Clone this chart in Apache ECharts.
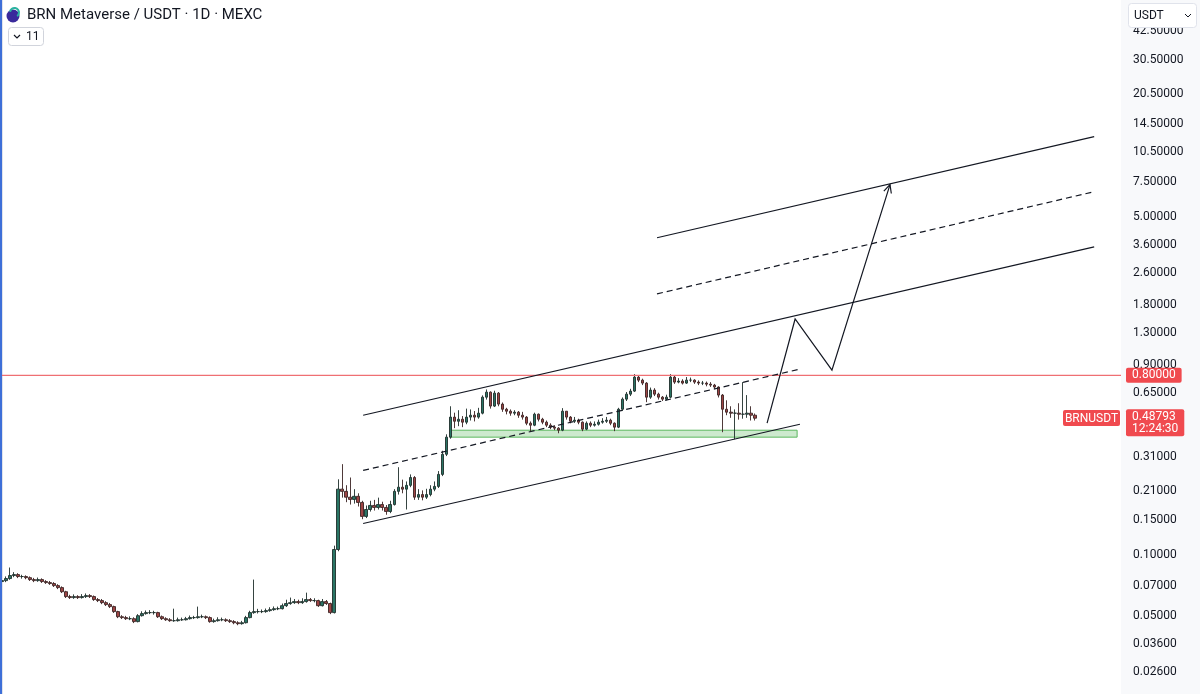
<!DOCTYPE html>
<html>
<head>
<meta charset="utf-8">
<title>BRN Metaverse / USDT</title>
<script src="https://cdn.jsdelivr.net/npm/echarts@6/dist/echarts.min.js"></script>
<style>
  html, body { margin: 0; padding: 0; background: #fff; }
  #chart { width: 1200px; height: 694px; }
</style>
</head>
<body>
<div id="chart"></div>
<script>
// daily candles (open = previous close)
const FIRST_OPEN = 0.0740;
const CLOSE = [
  0.0748, 0.0766, 0.0793, 0.0802, 0.0784, 0.0784, 0.0774, 0.0757, 0.0748, 0.0757,
  0.0740, 0.0731, 0.0723, 0.0706, 0.0690, 0.0658, 0.0622, 0.0615, 0.0622, 0.0615,
  0.0622, 0.0629, 0.0622, 0.0601, 0.0594, 0.0580, 0.0567, 0.0554, 0.0523, 0.0493,
  0.0488, 0.0482, 0.0482, 0.0466, 0.0499, 0.0511, 0.0517, 0.0517, 0.0517, 0.0493,
  0.0482, 0.0476, 0.0471, 0.0471, 0.0476, 0.0476, 0.0482, 0.0488, 0.0488, 0.0493,
  0.0493, 0.0488, 0.0466, 0.0471, 0.0476, 0.0476, 0.0471, 0.0466, 0.0460, 0.0455,
  0.0460, 0.0488, 0.0517, 0.0523, 0.0523, 0.0523, 0.0529, 0.0535, 0.0541, 0.0541,
  0.0560, 0.0574, 0.0580, 0.0587, 0.0580, 0.0587, 0.0601, 0.0594, 0.0594, 0.0560,
  0.0587, 0.0574, 0.0517, 0.1071, 0.2151, 0.2096, 0.1960, 0.1910, 0.1980, 0.1845,
  0.1570, 0.1700, 0.1782, 0.1741, 0.1800, 0.1741, 0.1662, 0.1800, 0.2096, 0.2200,
  0.2150, 0.2247, 0.2460, 0.1960, 0.2020, 0.1960, 0.2020, 0.2150, 0.2220, 0.2550,
  0.3216, 0.3920, 0.4940, 0.4710, 0.4820, 0.4660, 0.4940, 0.5050, 0.4940, 0.5170,
  0.6220, 0.6590, 0.5610, 0.6517, 0.5740, 0.5410, 0.5290, 0.5170, 0.5230, 0.5050,
  0.4940, 0.4604, 0.4500, 0.5110, 0.4820, 0.4660, 0.4500, 0.4400, 0.4350, 0.4250,
  0.5290, 0.4940, 0.4710, 0.4768, 0.4660, 0.4300, 0.4604, 0.4500, 0.4550, 0.4660,
  0.4710, 0.4768, 0.4604, 0.4400, 0.5410, 0.6080, 0.6440, 0.6670, 0.7840, 0.7570,
  0.7316, 0.6220, 0.6750, 0.6440, 0.6220, 0.6080, 0.6220, 0.7840, 0.7400, 0.7490,
  0.7316, 0.7570, 0.7570, 0.7400, 0.7316, 0.7316, 0.7230, 0.7150, 0.6990, 0.6370,
  0.5410, 0.5230, 0.5170, 0.5170, 0.5110, 0.5110, 0.5170, 0.5050, 0.48793
];
const HIGH = [
  0.0765, 0.0785, 0.0870, 0.0825, 0.0815, 0.0800, 0.0795, 0.0785, 0.0772, 0.0775,
  0.0768, 0.0752, 0.0745, 0.0735, 0.0718, 0.0700, 0.0665, 0.0635, 0.0638, 0.0632,
  0.0640, 0.0645, 0.0640, 0.0630, 0.0612, 0.0605, 0.0590, 0.0578, 0.0560, 0.0528,
  0.0502, 0.0498, 0.0495, 0.0490, 0.0508, 0.0525, 0.0530, 0.0532, 0.0528, 0.0522,
  0.0500, 0.0490, 0.0485, 0.0541, 0.0488, 0.0488, 0.0492, 0.0500, 0.0498, 0.0554,
  0.0505, 0.0500, 0.0495, 0.0482, 0.0490, 0.0488, 0.0484, 0.0480, 0.0474, 0.0468,
  0.0470, 0.0498, 0.0528, 0.0757, 0.0540, 0.0536, 0.0542, 0.0550, 0.0555, 0.0554,
  0.0574, 0.0600, 0.0615, 0.0605, 0.0600, 0.0610, 0.0651, 0.0612, 0.0610, 0.0600,
  0.0605, 0.0598, 0.0580, 0.1120, 0.2410, 0.2870, 0.2250, 0.2460, 0.2150, 0.2050,
  0.1880, 0.1780, 0.1880, 0.1900, 0.1950, 0.1860, 0.1790, 0.1880, 0.2150, 0.2770,
  0.2400, 0.2350, 0.2550, 0.2500, 0.2150, 0.2120, 0.2160, 0.2250, 0.2350, 0.2650,
  0.3350, 0.4050, 0.5600, 0.5200, 0.5350, 0.5000, 0.5450, 0.5400, 0.5300, 0.5500,
  0.6350, 0.6800, 0.6650, 0.6700, 0.6600, 0.5850, 0.5500, 0.5400, 0.5350, 0.5300,
  0.5250, 0.5000, 0.4700, 0.5200, 0.5150, 0.4900, 0.4750, 0.4600, 0.4500, 0.4400,
  0.5480, 0.5300, 0.5000, 0.4950, 0.4850, 0.4700, 0.4700, 0.4700, 0.4700, 0.4800,
  0.4880, 0.4950, 0.4850, 0.4650, 0.5500, 0.6200, 0.6600, 0.6850, 0.8120, 0.8000,
  0.7700, 0.7400, 0.6950, 0.6900, 0.6550, 0.6300, 0.6400, 0.8120, 0.7950, 0.7750,
  0.7650, 0.7850, 0.7800, 0.7650, 0.7550, 0.7500, 0.7450, 0.7400, 0.7250, 0.7050,
  0.6450, 0.6000, 0.5600, 0.5400, 0.5800, 0.7400, 0.6370, 0.5600, 0.5150
];
const LOW = [
  0.0725, 0.0735, 0.0755, 0.0778, 0.0770, 0.0765, 0.0760, 0.0745, 0.0735, 0.0738,
  0.0728, 0.0720, 0.0712, 0.0695, 0.0678, 0.0648, 0.0612, 0.0605, 0.0606, 0.0605,
  0.0608, 0.0612, 0.0612, 0.0592, 0.0584, 0.0570, 0.0558, 0.0545, 0.0515, 0.0485,
  0.0480, 0.0475, 0.0474, 0.0458, 0.0462, 0.0494, 0.0505, 0.0508, 0.0505, 0.0486,
  0.0475, 0.0470, 0.0465, 0.0465, 0.0466, 0.0470, 0.0472, 0.0477, 0.0480, 0.0482,
  0.0485, 0.0480, 0.0460, 0.0460, 0.0466, 0.0468, 0.0464, 0.0459, 0.0452, 0.0447,
  0.0450, 0.0456, 0.0484, 0.0510, 0.0512, 0.0514, 0.0516, 0.0522, 0.0528, 0.0532,
  0.0536, 0.0552, 0.0566, 0.0572, 0.0570, 0.0572, 0.0580, 0.0585, 0.0582, 0.0552,
  0.0555, 0.0565, 0.0508, 0.0512, 0.1050, 0.1950, 0.1850, 0.1800, 0.1820, 0.1760,
  0.1520, 0.1540, 0.1660, 0.1680, 0.1700, 0.1680, 0.1600, 0.1630, 0.1780, 0.2020,
  0.2050, 0.1700, 0.2200, 0.1900, 0.1900, 0.1890, 0.1920, 0.1980, 0.2100, 0.2180,
  0.2500, 0.3150, 0.3850, 0.4350, 0.4450, 0.4400, 0.4550, 0.4750, 0.4700, 0.4850,
  0.5100, 0.6050, 0.5450, 0.5550, 0.5600, 0.5250, 0.5100, 0.5020, 0.5050, 0.4900,
  0.4800, 0.4500, 0.4200, 0.4450, 0.4700, 0.4550, 0.4400, 0.4300, 0.4250, 0.4100,
  0.4200, 0.4800, 0.4600, 0.4620, 0.4550, 0.4200, 0.4250, 0.4400, 0.4430, 0.4480,
  0.4580, 0.4620, 0.4500, 0.4200, 0.4350, 0.5300, 0.5950, 0.6300, 0.6600, 0.7400,
  0.7150, 0.5870, 0.6100, 0.6300, 0.6050, 0.5950, 0.6000, 0.6150, 0.7250, 0.7300,
  0.7200, 0.7250, 0.7400, 0.7250, 0.7150, 0.7150, 0.7050, 0.7000, 0.6850, 0.6200,
  0.4150, 0.5050, 0.4900, 0.3830, 0.4800, 0.4850, 0.4900, 0.4750, 0.4750
];
// price scale labels on the right
const TICKS = [42.5, 30.5, 20.5, 14.5, 10.5, 7.5, 5.0, 3.6, 2.6, 1.8, 1.3, 0.9, 0.65,
  0.31, 0.21, 0.15, 0.10, 0.07, 0.05, 0.036, 0.026];
const SLOT_COUNT = 280;   // candles plus empty space to the right

// drawings: [bar index, price]
const UPPER_CH = [[90.2, 0.505], [272.8, 3.53]];
const MID_CH = [[90.2, 0.267], [199.3, 0.860]];
const LOWER_CH = [[90.2, 0.1447], [199.3, 0.455]];
const PROJ_TOP = [[163.6, 3.92], [272.8, 12.6]];
const PROJ_MID = [[163.6, 2.05], [272.8, 6.67]];
const PATH = [[191.1, 0.4605], [198.1, 1.534], [207.3, 0.850], [221.8, 7.24]];
const ZONE = [111.9, 198.6, 0.392, 0.4247];   // from, to, low, high
const RES_LEVEL = 0.8;
const LAST_PRICE = 0.48793;
const COUNTDOWN = '12:24:30';

const slots = Array.from({ length: SLOT_COUNT }, (_, i) => i);
const ohlc = CLOSE.map((c, i) => [i ? CLOSE[i - 1] : FIRST_OPEN, c, LOW[i], HIGH[i]]);

function trend(points, dashed, color) {
  return {
    type: 'line', xAxisIndex: 1, data: points, symbol: 'none', silent: true, z: 4,
    lineStyle: { color: color || '#131722', width: 1.2, type: dashed ? [6, 4] : 'solid' }
  };
}

const tagLabel = {
  show: true, position: 'end', distance: 5,
  backgroundColor: '#f04a4f', color: '#fff', borderRadius: 2,
  padding: [2, 6, 1, 6], fontSize: 12, fontFamily: 'Roboto'
};

var chart = echarts.init(document.getElementById('chart'));
var option = {
  animation: false,
  backgroundColor: '#ffffff',
  grid: { left: 0, right: 79, top: 0, bottom: 0 },
  xAxis: [
    { type: 'category', data: slots, boundaryGap: true, show: false },
    { type: 'value', min: -0.5, max: SLOT_COUNT - 0.5, show: false }
  ],
  yAxis: {
    type: 'log', logBase: 10, min: 0.0202, max: 61, position: 'right',
    axisLine: { show: true, lineStyle: { color: '#e0e3eb' } },
    axisTick: { show: false },
    splitLine: { show: false },
    axisLabel: {
      customValues: TICKS,
      formatter: v => v.toFixed(5),
      color: '#131722', fontSize: 12, fontFamily: 'Roboto', margin: 12
    }
  },
  series: [
    // horizontal resistance level across the whole pane
    trend([[-0.5, RES_LEVEL], [SLOT_COUNT - 0.5, RES_LEVEL]], false, '#ef6f73'),
    {
      type: 'candlestick',
      data: ohlc,
      barWidth: 3.2,
      z: 3,
      itemStyle: {
        color: '#2a7565', color0: '#9e4444',
        borderColor: '#1f2f2b', borderColor0: '#3b2424', borderWidth: 0.9
      }
    },
    {
      type: 'custom', xAxisIndex: 1, silent: true, z: 3,
      data: [ZONE], encode: { x: [0, 1], y: [2, 3] },
      renderItem: function (params, api) {
        var a = api.coord([api.value(0), api.value(3)]);
        var b = api.coord([api.value(1), api.value(2)]);
        return {
          type: 'rect',
          shape: { x: a[0], y: a[1], width: b[0] - a[0], height: b[1] - a[1] },
          style: { fill: 'rgba(76,175,80,0.28)', stroke: '#5cb860', lineWidth: 1 }
        };
      },
      markLine: {
        silent: true, symbol: 'none', animation: false,
        lineStyle: { color: 'rgba(0,0,0,0)', width: 1 },
        data: [
          {
            yAxis: RES_LEVEL,
            label: Object.assign({}, tagLabel, { formatter: RES_LEVEL.toFixed(5) })
          },
          {
            yAxis: LAST_PRICE,
            label: Object.assign({}, tagLabel, {
              formatter: LAST_PRICE.toFixed(5) + '\n' + COUNTDOWN,
              lineHeight: 12, offset: [0, 5]
            })
          }
        ]
      }
    },
    trend(UPPER_CH, false),
    trend(MID_CH, true),
    trend(LOWER_CH, false),
    trend(PROJ_TOP, false),
    trend(PROJ_MID, true),
    {
      type: 'custom', xAxisIndex: 1, silent: true, z: 5,
      data: [PATH[0]], encode: { x: 0, y: 1 },
      renderItem: function (params, api) {
        var pts = PATH.map(p => api.coord(p));
        var n = pts.length;
        var tip = pts[n - 1], prev = pts[n - 2];
        var ang = Math.atan2(tip[1] - prev[1], tip[0] - prev[0]);
        var len = 9, spread = 0.45;
        var h1 = [tip[0] - len * Math.cos(ang - spread), tip[1] - len * Math.sin(ang - spread)];
        var h2 = [tip[0] - len * Math.cos(ang + spread), tip[1] - len * Math.sin(ang + spread)];
        return {
          type: 'group',
          children: [
            { type: 'polyline', shape: { points: pts }, style: { stroke: '#131722', lineWidth: 1.2, fill: null } },
            { type: 'polyline', shape: { points: [h1, tip, h2] }, style: { stroke: '#131722', lineWidth: 1.2, fill: null } }
          ]
        };
      }
    }
  ],
  graphic: [
    { type: 'rect', z: -10, silent: true, shape: { x: 1121, y: 0, width: 79, height: 694 }, style: { fill: '#f8f9fb' } },
    { type: 'rect', z: 100, silent: true, shape: { x: 0, y: 0, width: 2, height: 694 }, style: { fill: '#3e6fd8' } },
    // symbol logo + title
    { type: 'circle', z: 100, shape: { cx: 13, cy: 16, r: 6.5 }, style: { fill: '#3a2a9c' } },
    { type: 'arc', z: 100, shape: { cx: 14.5, cy: 12.5, r: 4.5, startAngle: -Math.PI * 0.95, endAngle: Math.PI * 0.3 }, style: { stroke: '#2bb3a0', lineWidth: 2, fill: null } },
    { type: 'text', z: 100, x: 27, y: 15, style: { text: 'BRN Metaverse / USDT · 1D · MEXC', fill: '#131722', font: '15px Roboto', verticalAlign: 'middle' } },
    { type: 'rect', z: 100, shape: { x: 8.5, y: 27.5, width: 35, height: 18, r: 3 }, style: { fill: '#fff', stroke: '#d1d4dc', lineWidth: 1 } },
    { type: 'polyline', z: 101, shape: { points: [[14, 35], [17, 38], [20, 35]] }, style: { stroke: '#131722', lineWidth: 1.2, fill: null } },
    { type: 'text', z: 101, x: 26, y: 37, style: { text: '11', fill: '#131722', font: '12px Roboto', verticalAlign: 'middle' } },
    // currency selector
    { type: 'rect', z: 100, shape: { x: 1128.5, y: 3.5, width: 68, height: 24, r: 3 }, style: { fill: '#fff', stroke: '#e0e3eb', lineWidth: 1 } },
    { type: 'text', z: 101, x: 1134, y: 16, style: { text: 'USDT', fill: '#131722', font: '12px Roboto', verticalAlign: 'middle' } },
    { type: 'polyline', z: 101, shape: { points: [[1185, 14], [1188, 17], [1191, 14]] }, style: { stroke: '#131722', lineWidth: 1, fill: null } },
    // symbol tag next to last price
    { type: 'rect', z: 100, shape: { x: 1063, y: 410, width: 57, height: 16, r: 2 }, style: { fill: '#f04a4f' } },
    { type: 'text', z: 101, x: 1091.5, y: 418.5, style: { text: 'BRNUSDT', fill: '#fff', font: '12px Roboto', align: 'center', verticalAlign: 'middle' } }
  ]
};
chart.setOption(option);
</script>
</body>
</html>
